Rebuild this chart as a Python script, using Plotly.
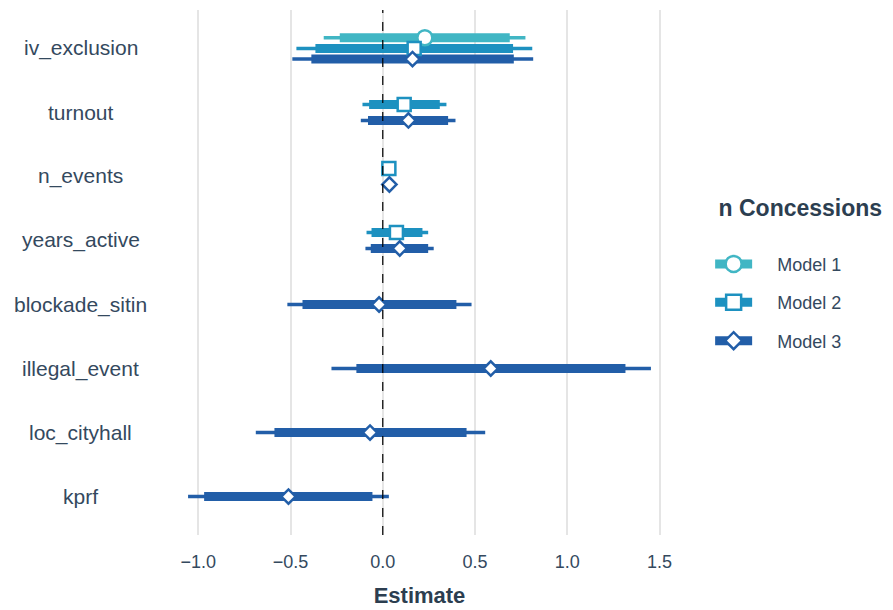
import plotly.graph_objects as go

# ---------------- data ----------------
terms = ["iv_exclusion", "turnout", "n_events", "years_active",
         "blockade_sitin", "illegal_event", "loc_cityhall", "kprf"]
models = ["Model 1", "Model 2", "Model 3"]

# point estimates (None = term not in model)
est_m1 = [0.228, None, None, None, None, None, None, None]
est_m2 = [0.170, 0.116, 0.033, 0.074, None, None, None, None]
est_m3 = [0.161, 0.139, 0.036, 0.092, -0.020, 0.585, -0.069, -0.511]

# outer (thin) interval
lo95_m1 = [-0.320, None, None, None, None, None, None, None]
hi95_m1 = [0.773, None, None, None, None, None, None, None]
lo95_m2 = [-0.468, -0.110, 0.020, -0.088, None, None, None, None]
hi95_m2 = [0.810, 0.345, 0.046, 0.246, None, None, None, None]
lo95_m3 = [-0.490, -0.119, 0.022, -0.094, -0.517, -0.278, -0.688, -1.055]
hi95_m3 = [0.815, 0.394, 0.050, 0.276, 0.481, 1.453, 0.555, 0.033]

# inner (thick) interval
lo90_m1 = [-0.233, None, None, None, None, None, None, None]
hi90_m1 = [0.688, None, None, None, None, None, None, None]
lo90_m2 = [-0.365, -0.074, 0.025, -0.061, None, None, None, None]
hi90_m2 = [0.706, 0.309, 0.041, 0.215, None, None, None, None]
lo90_m3 = [-0.387, -0.080, 0.027, -0.065, -0.435, -0.143, -0.587, -0.968]
hi90_m3 = [0.710, 0.354, 0.045, 0.246, 0.399, 1.315, 0.454, -0.056]

x_ticks = [-1.0, -0.5, 0.0, 0.5, 1.0, 1.5]

# ---------------- styling ----------------
colors = ["#41B6C4", "#1D91C0", "#225EA8"]
symbols = ["circle", "square", "diamond"]
msizes = [15, 13, 11]
txt = "#34495E"
txt_bold = "#2C3E50"
FONT = "Liberation Sans, Arial, sans-serif"
NB = "\u00a0"

est = [est_m1, est_m2, est_m3]
lo95 = [lo95_m1, lo95_m2, lo95_m3]
hi95 = [hi95_m1, hi95_m2, hi95_m3]
lo90 = [lo90_m1, lo90_m2, lo90_m3]
hi90 = [hi90_m1, hi90_m2, hi90_m3]

# dodge positions (like position_dodge, width 0.5)
dodge_w = 0.5
ypos = [[None] * len(terms) for _ in models]
for i in range(len(terms)):
    present = [m for m in range(len(models)) if est[m][i] is not None]
    n = len(present)
    for k, m in enumerate(present):
        ypos[m][i] = i + (k - (n - 1) / 2) * dodge_w / n

fig = go.Figure()

def seg(los, his, ys):
    xs, yy = [], []
    for lo, hi, y in zip(los, his, ys):
        if lo is None:
            continue
        xs += [lo, hi, None]
        yy += [y, y, None]
    return xs, yy

# thin lines
for m in range(len(models)):
    xs, yy = seg(lo95[m], hi95[m], ypos[m])
    fig.add_trace(go.Scatter(x=xs, y=yy, mode="lines",
                             line=dict(color=colors[m], width=3.5),
                             showlegend=False, legendgroup=models[m], hoverinfo="skip"))
# thick lines
for m in range(len(models)):
    xs, yy = seg(lo90[m], hi90[m], ypos[m])
    fig.add_trace(go.Scatter(x=xs, y=yy, mode="lines",
                             line=dict(color=colors[m], width=9),
                             showlegend=False, legendgroup=models[m], hoverinfo="skip"))
# points
for m in range(len(models)):
    xs = [e for e in est[m] if e is not None]
    yy = [y for e, y in zip(est[m], ypos[m]) if e is not None]
    fig.add_trace(go.Scatter(x=xs, y=yy, mode="markers",
                             marker=dict(symbol=symbols[m], size=msizes[m], color="white",
                                         line=dict(color=colors[m], width=2.5)),
                             showlegend=False, legendgroup=models[m], name=models[m]))
# legend entries
for m in range(len(models)):
    fig.add_trace(go.Scatter(x=[None], y=[None], mode="lines+markers",
                             name=NB * 4 + models[m], legendgroup=models[m],
                             line=dict(color=colors[m], width=9),
                             marker=dict(symbol=symbols[m], size=msizes[m] + 2, color="white",
                                         line=dict(color=colors[m], width=2.5))))

# y labels centred like ggplot
for i, t in enumerate(terms):
    fig.add_annotation(x=-0.166, xref="paper", y=i, yref="y", text=t,
                       showarrow=False, xanchor="center", yanchor="middle",
                       font=dict(family=FONT, size=21, color=txt))

fig.add_shape(type="line", x0=0, x1=0, y0=0, y1=1, xref="x", yref="paper",
              line=dict(color="black", width=1.2, dash="dash"), layer="above")

fig.update_layout(
    width=885, height=602,
    margin=dict(l=157, r=219, t=2, b=75),
    paper_bgcolor="white", plot_bgcolor="white",
    font=dict(family=FONT, color=txt),
    xaxis=dict(range=[-1.18, 1.578], tickvals=x_ticks,
               ticktext=[("−" if v < 0 else "") + f"{abs(v):.1f}" for v in x_ticks],
               showgrid=True, gridcolor="#E5E5E5", gridwidth=1.6,
               zeroline=False, showline=False, ticks="",
               tickfont=dict(size=18, color=txt), ticklabelstandoff=14,
               title=dict(text="<b>Estimate</b>", font=dict(size=22, color=txt_bold), standoff=16)),
    yaxis=dict(range=[len(terms) - 0.4, -0.6], showgrid=False, zeroline=False,
               showticklabels=False, showline=False, ticks=""),
    legend=dict(x=1.071, xanchor="left", y=0.665, yanchor="top",
                title=dict(text="<b>" + NB + "n Concessions</b><br>" + NB,
                           font=dict(size=23, color=txt_bold), side="top"),
                font=dict(size=18, color=txt), itemwidth=37, tracegroupgap=12,
                bgcolor="rgba(0,0,0,0)"),
)

fig.write_html("out.html")
